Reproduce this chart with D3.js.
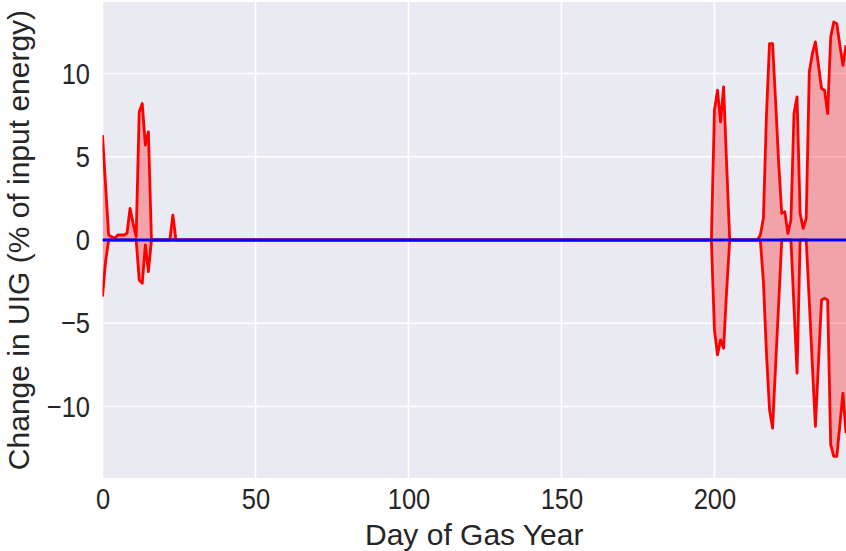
<!DOCTYPE html>
<html lang="en">
    <head>
        <meta charset="utf-8">
        <title>UIG change</title>
        <script src="https://d3js.org/d3.v7.min.js"></script>
        <style type="text/css">
            body { margin: 0; background: #ffffff; }
            text { font-family: "Liberation Sans", Arial, sans-serif; fill: #262626; }
        </style>
    </head>
    <body>
        <script type="text/javascript">
            // days of the gas year that carry data (flat zero stretch in between)
            var days = [0, 1, 2, 3, 4, 5, 6, 7, 8, 9, 10, 11, 12, 13, 14, 15, 16, 17, 18, 19, 20, 21, 22, 23, 24,
                198, 199, 200, 201, 202, 203, 204, 205, 206, 207, 208, 209, 210, 211, 212, 213, 214, 215, 216, 217,
                218, 219, 220, 221, 222, 223, 224, 225, 226, 227, 228, 229, 230, 231, 232, 233, 234, 235, 236, 237,
                238, 239, 240, 241, 242, 243];

            // upper envelope (% of input energy)
            var upper = [6.3, 3.3, 0.3, 0.2, 0.1, 0.3, 0.3, 0.3, 0.4, 1.9, 1.0, 0.2, 7.7, 8.2, 5.7, 6.5, 0, 0, 0, 0, 0, 0, 0, 1.5, 0,
                0, 0, 7.8, 9.0, 7.1, 9.2, 4.5, 0, 0, 0, 0, 0, 0, 0, 0, 0, 0, 0.3, 1.3, 7.5,
                11.8, 11.8, 8.3, 4.6, 1.6, 1.7, 0.4, 1.2, 7.6, 8.6, 1.6, 0.7, 1.3, 10.1, 11.2, 11.9, 10.5, 9.1, 9.0, 7.6,
                12.2, 13.1, 13.0, 11.7, 10.5, 11.7];

            // lower envelope
            var lower = [-3.4, -1.3, 0, 0, 0, 0, 0, 0, 0, 0, 0, 0, -2.4, -2.6, -0.3, -1.9, 0, 0, 0, 0, 0, 0, 0, 0, 0,
                0, 0, -5.4, -6.9, -6.0, -6.5, -3.0, 0, 0, 0, 0, 0, 0, 0, 0, 0, 0, 0, -2.5, -6.8,
                -10.2, -11.3, -7.5, -3.8, 0, 0, 0, 0, -4.0, -8.0, 0, 0, 0, -3.7, -7.5, -11.2, -7.4, -3.6, -3.5, -3.6,
                -12.3, -13.0, -13.0, -11.1, -9.2, -11.6];

            var xTicks = [0, 50, 100, 150, 200];
            var yTicks = [-10, -5, 0, 5, 10];

            var svgWidth = 846, svgHeight = 551;
            var margin = {top: 2, right: 0, bottom: 73, left: 102.5};
            var width = svgWidth - margin.left - margin.right,
                height = svgHeight - margin.top - margin.bottom;

            var xScale = d3.scaleLinear().domain([0, 243]).range([0, width]);
            var yScale = d3.scaleLinear().domain([-14.3, 14.3]).range([height, 0]);

            var svg = d3.select("body").append("svg")
                .attr("width", svgWidth)
                .attr("height", svgHeight);

            var g = svg.append("g")
                .attr("transform", "translate(" + margin.left + "," + margin.top + ")");

            // seaborn darkgrid background
            g.append("rect")
                .attr("width", width)
                .attr("height", height)
                .style("fill", "#eaeaf2");

            g.append("clipPath").attr("id", "clip")
                .append("rect").attr("width", width).attr("height", height);

            // grid lines
            g.selectAll(".xgrid").data(xTicks).enter().append("line")
                .attr("x1", xScale).attr("x2", xScale)
                .attr("y1", 0).attr("y2", height)
                .style("stroke", "#ffffff").style("stroke-width", 1.6);
            g.selectAll(".ygrid").data(yTicks).enter().append("line")
                .attr("y1", yScale).attr("y2", yScale)
                .attr("x1", 0).attr("x2", width)
                .style("stroke", "#ffffff").style("stroke-width", 1.6);

            var rows = days.map(function(d, i) { return {day: d, hi: upper[i], lo: lower[i]}; });

            var plot = g.append("g").attr("clip-path", "url(#clip)");

            // shaded band between the two envelopes
            var area = d3.area()
                .x(function(d) { return xScale(d.day); })
                .y0(function(d) { return yScale(d.lo); })
                .y1(function(d) { return yScale(d.hi); });
            plot.append("path").datum(rows)
                .attr("d", area)
                .style("fill", "red").style("fill-opacity", 0.3);

            var hiLine = d3.line().x(function(d) { return xScale(d.day); }).y(function(d) { return yScale(d.hi); });
            var loLine = d3.line().x(function(d) { return xScale(d.day); }).y(function(d) { return yScale(d.lo); });

            plot.append("path").datum(rows).attr("d", hiLine)
                .style("fill", "none").style("stroke", "red").style("stroke-width", 2.8)
                .style("stroke-linejoin", "round");
            plot.append("path").datum(rows).attr("d", loLine)
                .style("fill", "none").style("stroke", "red").style("stroke-width", 2.8)
                .style("stroke-linejoin", "round");

            // zero reference line
            plot.append("line")
                .attr("x1", xScale(0)).attr("x2", xScale(243))
                .attr("y1", yScale(0)).attr("y2", yScale(0))
                .style("stroke", "blue").style("stroke-width", 2.8);

            // tick labels (the source figure has tall, narrow tick digits)
            var xAxis = d3.axisBottom(xScale).tickValues(xTicks).tickSize(0).tickPadding(10);
            var xg = g.append("g").attr("transform", "translate(0," + height + ")").call(xAxis);
            xg.select(".domain").remove();
            xg.selectAll("text")
                .style("font-size", "30px").style("font-family", "Liberation Sans, Arial, sans-serif")
                .attr("fill", "#262626")
                .attr("transform", "scale(0.85,1)");

            var yAxis = d3.axisLeft(yScale).tickValues(yTicks).tickSize(0).tickPadding(14.7)
                .tickFormat(function(d) { return d < 0 ? "\u2212" + Math.abs(d) : d; });
            var yg = g.append("g").call(yAxis);
            yg.select(".domain").remove();
            yg.selectAll("text")
                .style("font-size", "30px").style("font-family", "Liberation Sans, Arial, sans-serif")
                .attr("fill", "#262626")
                .attr("transform", "scale(0.85,1)");

            // axis titles
            svg.append("text")
                .attr("x", margin.left + width / 2)
                .attr("y", 545)
                .style("text-anchor", "middle")
                .style("font-size", "30px")
                .text("Day of Gas Year");

            svg.append("text")
                .attr("transform", "translate(29," + (margin.top + height / 2) + ") rotate(-90)")
                .style("text-anchor", "middle")
                .style("font-size", "30px")
                .text("Change in UIG (% of input energy)");
        </script>
    </body>
</html>
